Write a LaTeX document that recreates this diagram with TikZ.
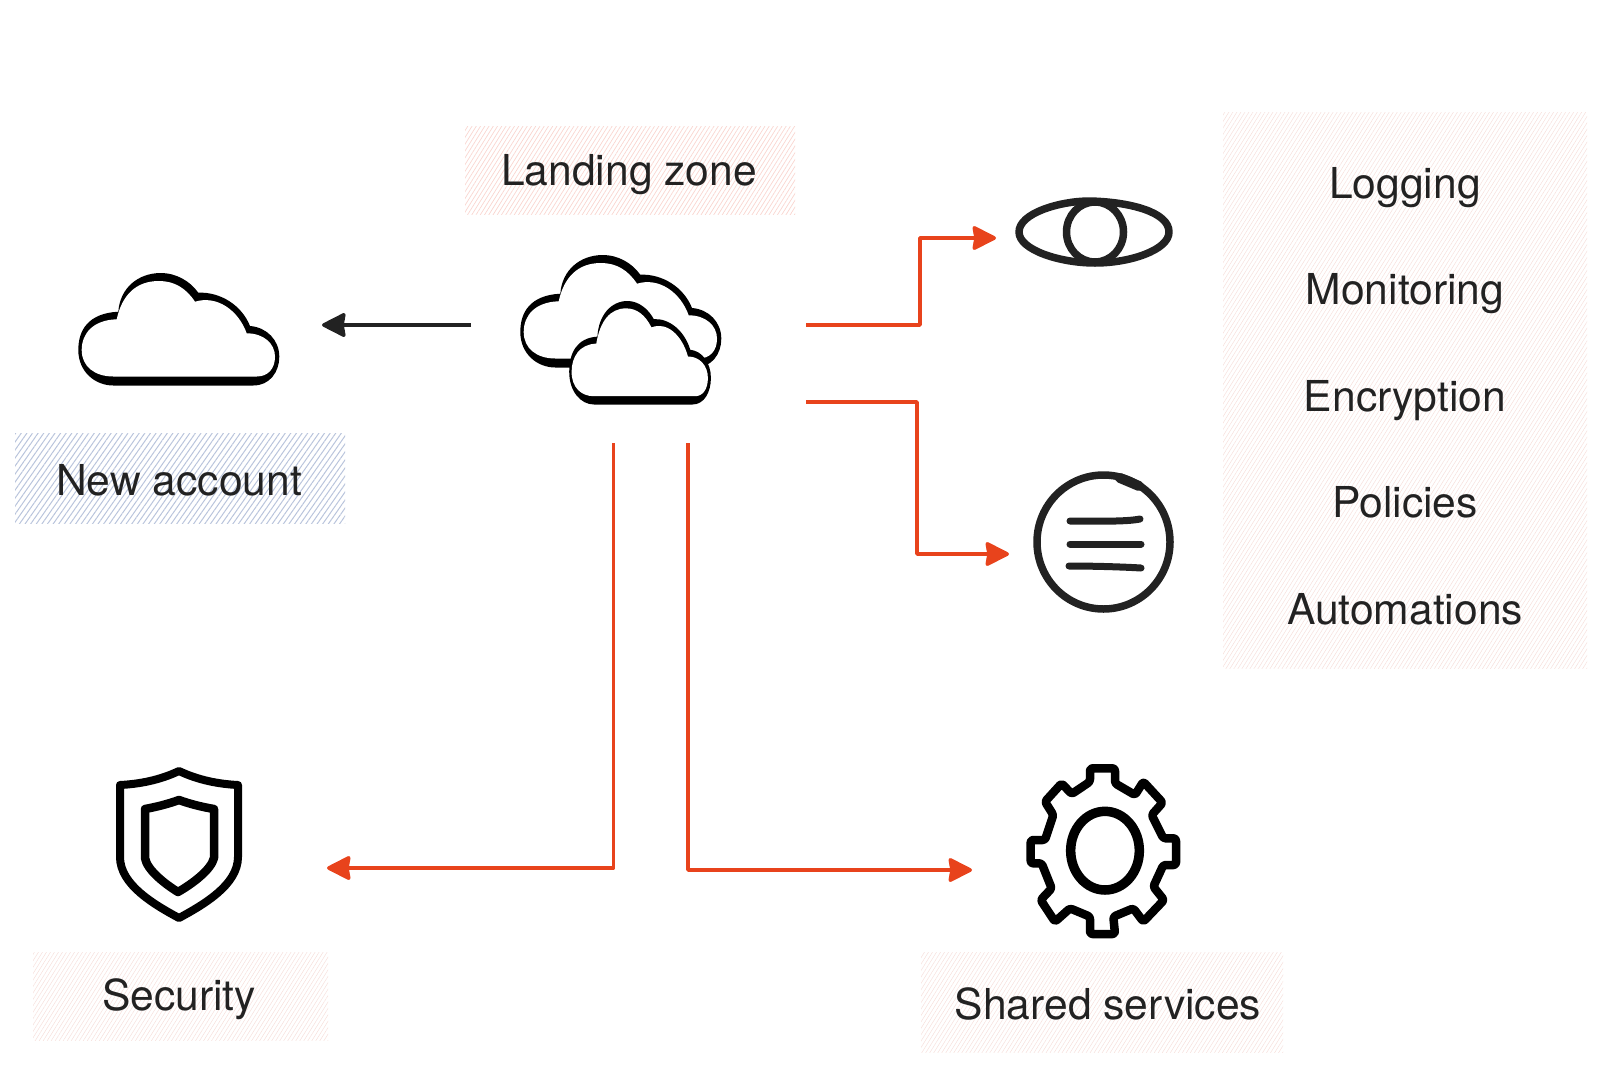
\documentclass[tikz,border=0pt]{standalone}
\usepackage{fontspec}
\setmainfont{TeX Gyre Heros}
\usetikzlibrary{arrows.meta,patterns.meta}
\definecolor{inkdark}{HTML}{222222}
\definecolor{flowred}{HTML}{E8431C}
\definecolor{hatchpink}{HTML}{F9D5CF}
\definecolor{hatchpale}{HTML}{F6DFDB}
\definecolor{hatchblue}{HTML}{B9C4DC}
\tikzset{
	iconbox/.style={inner sep=0pt, outer sep=0pt},
	labeltext/.style={anchor=base, text=inkdark, inner sep=0pt, font=\fontsize{42.6}{50}\selectfont},
	hatchbox/.style={inner sep=0pt, outer sep=0pt, pattern={Lines[angle=58,distance=3.6pt,line width=.7pt]}, pattern color=#1},
	paleboxes/.style={inner sep=0pt, outer sep=0pt, pattern={Lines[angle=58,distance=3.4pt,line width=.5pt]}, pattern color=hatchpale},
	blueboxes/.style={inner sep=0pt, outer sep=0pt, pattern={Lines[angle=55,distance=4.6pt,line width=1pt]}, pattern color=hatchblue},
	iconline/.style={draw=inkdark, line width=7.5pt, line cap=round, line join=round},
	flow/.style={draw=flowred, line width=3.6pt, line join=round, -{Stealth[length=26pt,width=26pt,inset=2pt,round]}},
	flowdark/.style={flow, draw=inkdark, line width=3.5pt},
}
\newcommand{\CloudIcon}{
	\fill[black] (35.3,112.5) -- (175.3,112.5)
		.. controls (192,112.5) and (201.3,98.7) .. (201.3,83.7)
		.. controls (201.3,67) and (188.7,54.3) .. (172,53)
		.. controls (163.7,32) and (142,18.7) .. (120.3,19.7)
		.. controls (112,8) and (98,0) .. (83,0)
		.. controls (60,0) and (42,15) .. (40.3,38.7)
		.. controls (10.3,40.3) and (0.3,57) .. (0.3,77)
		.. controls (0.3,98.7) and (17,112.5) .. (35.3,112.5) -- cycle;
	\fill[white] (35.3,103.5) -- (178.7,103.5)
		.. controls (190.3,103.5) and (197,95.3) .. (197,83.7)
		.. controls (197,70.3) and (185.3,60.3) .. (168.7,60.3)
		.. controls (160.3,37) and (138.7,22) .. (117,28.7)
		.. controls (108,15) and (96,8) .. (81,8)
		.. controls (58,8) and (44,22) .. (38.7,46.3)
		.. controls (15.3,47) and (3.7,60.3) .. (3.7,77)
		.. controls (3.7,93.7) and (17,103.5) .. (35.3,103.5) -- cycle;
}
\newcommand{\EyeIcon}{
	\draw[iconline] (1019,232) .. controls (1019,213) and (1060,201) .. (1090,201)
		.. controls (1130,202) and (1169,212) .. (1169,232)
		.. controls (1169,250) and (1130,263) .. (1095,263)
		.. controls (1060,263) and (1019,250) .. (1019,232) -- cycle;
	\draw[iconline] (1095,232) ellipse [x radius=28.5, y radius=30];
}
\newcommand{\MenuIcon}{
	\draw[iconline] (1103.5,542) ellipse [x radius=66.5, y radius=67];
	\draw[iconline, line width=10pt] (1120,478) -- (1139,486);
	\draw[iconline, line width=7pt] (1070,521) .. controls (1095,521) and (1125,522) .. (1140,519);
	\draw[iconline, line width=7pt] (1070,544) -- (1141,544);
	\draw[iconline, line width=7pt] (1069,566) .. controls (1095,566) and (1125,567) .. (1141,568);
}
\newcommand{\ShieldIcon}{
	\draw[draw=black, line width=8pt, line join=round] (179,771)
		.. controls (160,780) and (140,784) .. (120,785) -- (120,857)
		.. controls (120,885) and (155,905) .. (179,918)
		.. controls (203,905) and (238,885) .. (238,857) -- (238,785)
		.. controls (218,784) and (198,780) .. (179,771) -- cycle;
	\draw[draw=black, line width=8.5pt, line join=round] (179,800)
		.. controls (168,804) and (156,807) .. (145,809) -- (145,858)
		.. controls (147,870) and (165,884) .. (178,892)
		.. controls (192,884) and (211,870) .. (214,858) -- (214,809)
		.. controls (202,807) and (190,804) .. (179,800) -- cycle;
}
\newcommand{\GearIcon}{
	\begin{scope}[shift={(900,730)},scale=1/3]
		\draw[draw=black, line width=8.5pt, line join=round, rounded corners=2.5pt]
			(570,115) -- (645,115) -- (645,160) -- (705,195) -- (730,155) -- (788,218) -- (755,255) -- (790,325)
			-- (828,325) -- (828,405) -- (790,405) -- (760,470) -- (792,510) -- (730,575) -- (700,535) -- (640,560)
			-- (645,612) -- (570,612) -- (570,560) -- (510,535) -- (465,575) -- (422,510) -- (455,475) -- (425,400)
			-- (392,400) -- (392,330) -- (435,330) -- (460,255) -- (435,215) -- (485,160) -- (515,192) -- (570,155) -- cycle;
		\draw[draw=black, line width=9.5pt] (615,362) ellipse [x radius=103, y radius=118];
	\end{scope}
}
\begin{document}
\begin{tikzpicture}[x=1pt,y=-1pt]
	\useasboundingbox (0,0) rectangle (1600,1065);
	\node[hatchbox=hatchpink, minimum width=330pt, minimum height=88pt] (zonebox) at (630,170) {};
	\node[blueboxes, minimum width=330pt, minimum height=90pt] (accountbox) at (180,478) {};
	\node[paleboxes, minimum width=295pt, minimum height=88pt] (securitybox) at (180.5,996) {};
	\node[paleboxes, minimum width=362pt, minimum height=100pt] (sharedbox) at (1102,1002) {};
	\node[paleboxes, minimum width=364pt, minimum height=556pt] (itemsbox) at (1405,390) {};
	\node[labeltext] (zonetext) at (629,185) {Landing zone};
	\node[labeltext] (accounttext) at (179,495.5) {New account};
	\node[labeltext] (securitytext) at (179,1010) {Security};
	\node[labeltext] (sharedtext) at (1108,1019) {Shared services};
	\foreach \Item [count=\i] in {Logging,Monitoring,Encryption,Policies,Automations}
		\node[labeltext] (item\i) at (1405,{92+106.4*\i}) {\Item};
	\node[iconbox, minimum width=335pt, minimum height=236pt] (zone) at (638.5,325) {};
	\node[iconbox, minimum width=288pt, minimum height=120pt] (account) at (178,325) {};
	\node[iconbox, minimum width=196pt, minimum height=70pt] (eye) at (1094,238) {};
	\node[iconbox, minimum width=190pt, minimum height=160pt] (menu) at (1104,554) {};
	\node[iconbox, minimum width=296pt, minimum height=190pt] (security) at (179,868) {};
	\node[iconbox, minimum width=264pt, minimum height=200pt] (gear) at (1104,870) {};
	\coordinate (bendA) at (920,238);
	\coordinate (bendB) at (917,554);
	\begin{scope}[shift={(78,273)}]
		\CloudIcon
	\end{scope}
	\begin{scope}[shift={(520,255)}]
		\CloudIcon
	\end{scope}
	\begin{scope}[shift={(569,301)},xscale=.705,yscale=.92]
		\CloudIcon
	\end{scope}
	\EyeIcon
	\MenuIcon
	\ShieldIcon
	\GearIcon
	\draw[flowdark] (zone.west) -- (account.east);
	\draw[flow] (zone.east) -| (bendA) -- (eye.west);
	\draw[flow] ([yshift=-77pt]zone.east) -| (bendB) -- (menu.west);
	\draw[flow] ([xshift=-25pt]zone.south) |- (security.east);
	\draw[flow] ([xshift=49.5pt]zone.south) |- (gear.west);
\end{tikzpicture}
\end{document}
